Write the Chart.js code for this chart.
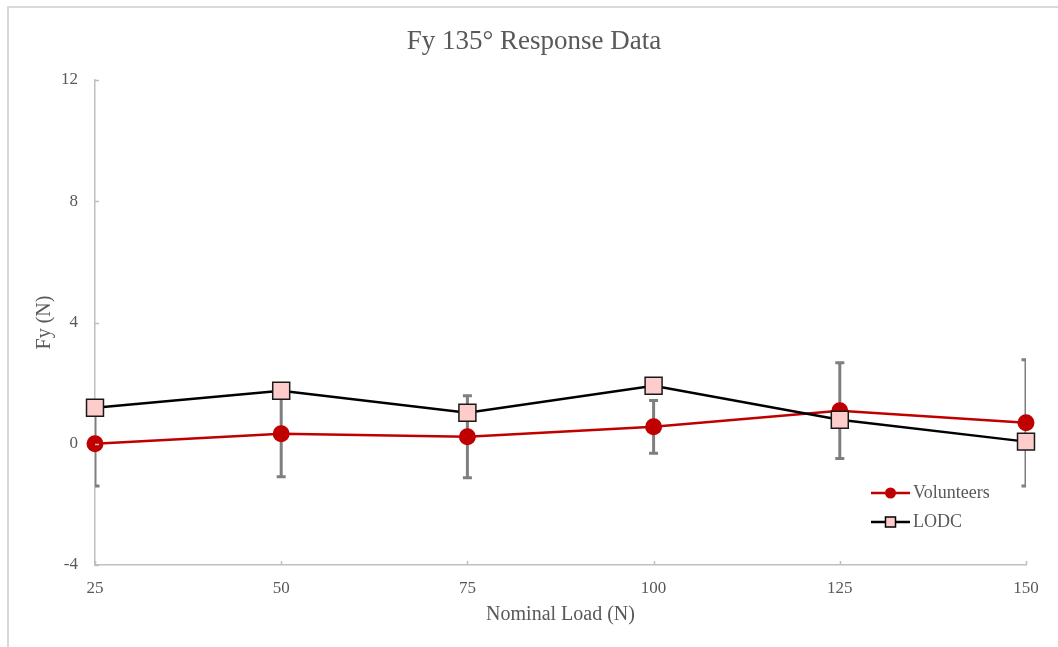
<!DOCTYPE html>
<html>
<head>
<meta charset="utf-8">
<script src="https://cdn.jsdelivr.net/npm/chart.js@4/dist/chart.umd.min.js"></script>
<style>
  html, body { margin: 0; padding: 0; background: #ffffff; }
  #wrap { position: relative; width: 1058px; height: 647px; overflow: hidden; }
  #frame { position: absolute; left: 7px; top: 6px; width: 1200px; height: 800px;
           border-left: 2px solid #d9d9d9; border-top: 2px solid #d9d9d9; }
  #c { position: absolute; left: 0; top: 0; }
</style>
</head>
<body>
<div id="wrap">
  <div id="frame"></div>
  <canvas id="c" width="1058" height="647"></canvas>
</div>
<script>
// ---- data ----
const loads = [25, 50, 75, 100, 125, 150];
const volunteers = [0.0, 0.33, 0.23, 0.56, 1.09, 0.69];
const volunteersErr = [1.39, 1.42, 1.35, 0.87, 1.58, 2.08];
const lodc = [1.19, 1.75, 1.02, 1.91, 0.79, 0.07];
const yTicks = [-4, 0, 4, 8, 12];
const xTicks = [25, 50, 75, 100, 125, 150];
const seriesNames = ['Volunteers', 'LODC'];

const SERIF = '"Liberation Serif", "Times New Roman", serif';
const TXT = '#595959';
const RED = '#c00000';
const PINK = '#ffcccc';

const toPoints = (xs, ys) => xs.map((x, i) => ({ x: x, y: ys[i] }));

const errorBars = {
  id: 'errorBars',
  beforeDatasetsDraw(chart) {
    const { ctx, chartArea: a, scales: { x, y } } = chart;
    ctx.save();
    ctx.beginPath();
    ctx.rect(a.left, a.top, a.right - a.left, a.bottom - a.top);
    ctx.clip();
    ctx.strokeStyle = '#7f7f7f';
    ctx.lineWidth = 3;
    ctx.lineCap = 'butt';
    loads.forEach((l, i) => {
      const px = x.getPixelForValue(l);
      const top = y.getPixelForValue(volunteers[i] + volunteersErr[i]);
      const bot = y.getPixelForValue(volunteers[i] - volunteersErr[i]);
      ctx.beginPath();
      ctx.moveTo(px, top); ctx.lineTo(px, bot);
      ctx.moveTo(px - 4.5, top); ctx.lineTo(px + 4.5, top);
      ctx.moveTo(px - 4.5, bot); ctx.lineTo(px + 4.5, bot);
      ctx.stroke();
    });
    ctx.restore();
  },
  afterDraw(chart) {
    const { ctx, chartArea: a, scales: { x, y } } = chart;
    ctx.save();
    // inward tick marks
    ctx.strokeStyle = '#bfbfbf';
    ctx.lineWidth = 1.5;
    ctx.beginPath();
    xTicks.forEach(v => {
      const px = Math.round(x.getPixelForValue(v)) + 0.5;
      ctx.moveTo(px, a.bottom); ctx.lineTo(px, a.bottom - 4);
    });
    yTicks.forEach(v => {
      const py = Math.round(y.getPixelForValue(v)) + 0.5;
      ctx.moveTo(a.left, py); ctx.lineTo(a.left + 4, py);
    });
    ctx.stroke();
    // legend
    const rows = [
      { name: seriesNames[0], color: RED, y: 493, style: 'circle' },
      { name: seriesNames[1], color: '#000000', y: 522, style: 'rect' }
    ];
    rows.forEach(r => {
      ctx.strokeStyle = r.color;
      ctx.lineWidth = 2.5;
      ctx.beginPath();
      ctx.moveTo(871, r.y); ctx.lineTo(910, r.y);
      ctx.stroke();
      if (r.style === 'circle') {
        ctx.fillStyle = RED;
        ctx.beginPath();
        ctx.arc(890.5, r.y, 5.5, 0, Math.PI * 2);
        ctx.fill();
      } else {
        ctx.fillStyle = PINK;
        ctx.strokeStyle = '#000000';
        ctx.lineWidth = 1.5;
        ctx.fillRect(885.5, r.y - 5, 10, 10);
        ctx.strokeRect(885.5, r.y - 5, 10, 10);
      }
      ctx.fillStyle = TXT;
      ctx.font = '18px ' + SERIF;
      ctx.textAlign = 'left';
      ctx.textBaseline = 'middle';
      ctx.fillText(r.name, 913, r.y);
    });
    ctx.restore();
  }
};

new Chart(document.getElementById('c'), {
  type: 'scatter',
  data: {
    datasets: [
      {
        label: seriesNames[0],
        data: toPoints(loads, volunteers),
        showLine: true,
        borderColor: RED,
        borderWidth: 2.5,
        backgroundColor: RED,
        pointStyle: 'circle',
        pointRadius: 8.5,
        pointBorderWidth: 0,
        pointBackgroundColor: RED,
        pointHoverRadius: 8.5,
        clip: false,
        order: 1
      },
      {
        label: seriesNames[1],
        data: toPoints(loads, lodc),
        showLine: true,
        borderColor: '#000000',
        borderWidth: 2.5,
        backgroundColor: PINK,
        pointStyle: 'rect',
        pointRadius: 12,
        pointBorderWidth: 1.5,
        pointBorderColor: '#1a1a1a',
        pointBackgroundColor: PINK,
        pointHoverRadius: 12,
        clip: false,
        order: 0
      }
    ]
  },
  options: {
    responsive: false,
    animation: false,
    events: [],
    layout: { padding: { left: 42, right: 32, top: 0, bottom: 0 } },
    plugins: {
      legend: { display: false },
      tooltip: { enabled: false },
      title: {
        display: true,
        text: 'Fy 135° Response Data',
        color: TXT,
        font: { family: SERIF, size: 27, weight: 'normal' },
        padding: { top: 26, bottom: 21.6 }
      }
    },
    scales: {
      x: {
        type: 'linear',
        min: 25, max: 150,
        afterFit(s) { s.height = 82; },
        afterBuildTicks(s) { s.ticks = xTicks.map(v => ({ value: v })); },
        grid: { display: false, drawTicks: false },
        border: { display: true, color: '#bfbfbf', width: 1.5 },
        ticks: { color: TXT, font: { family: SERIF, size: 17 }, padding: 13, maxRotation: 0 },
        title: { display: true, text: 'Nominal Load (N)', color: TXT,
                 font: { family: SERIF, size: 20 }, padding: { top: 0, bottom: 20 } }
      },
      y: {
        type: 'linear',
        min: -4, max: 12,
        afterFit(s) { s.width = 53; },
        afterBuildTicks(s) { s.ticks = yTicks.map(v => ({ value: v })); },
        grid: { display: false, drawTicks: false },
        border: { display: true, color: '#bfbfbf', width: 1.5 },
        ticks: { color: TXT, font: { family: SERIF, size: 17 }, padding: 17 },
        title: { display: true, text: 'Fy (N)', color: TXT,
                 font: { family: SERIF, size: 20 }, padding: { top: -9, bottom: 0 } }
      }
    }
  },
  plugins: [errorBars]
});
</script>
</body>
</html>
